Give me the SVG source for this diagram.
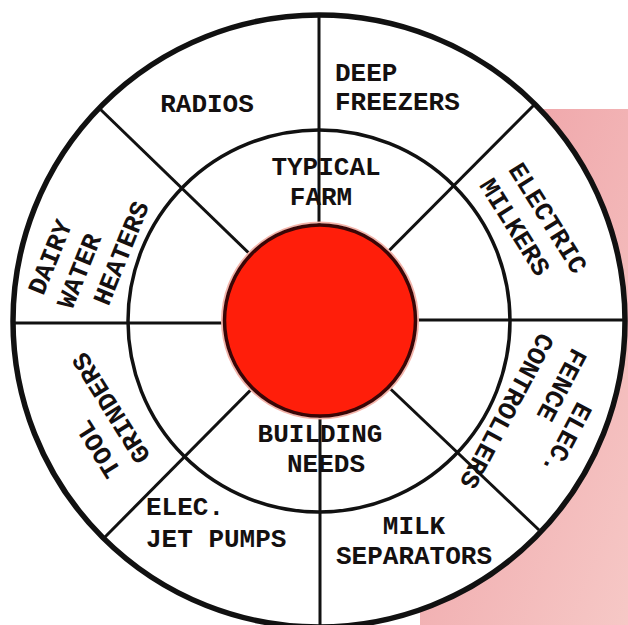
<svg xmlns="http://www.w3.org/2000/svg" width="628" height="625" viewBox="0 0 628 625">
  <defs>
    <linearGradient id="pink" x1="0" y1="0" x2="1" y2="1">
      <stop offset="0" stop-color="#e4606a"/>
      <stop offset="0.18" stop-color="#efa4a8"/>
      <stop offset="1" stop-color="#f6c8c6"/>
    </linearGradient>
    <style>
      .lbl { font-family: "Liberation Mono", "DejaVu Sans Mono", monospace; font-size: 26px; font-weight: bold; fill: #141010; }
      .mid { text-anchor: middle; }
      .ring { fill: none; stroke: #111; }
      .spoke { stroke: #111; stroke-width: 3; stroke-linecap: butt; }
    </style>
  </defs>

  <rect x="0" y="0" width="628" height="625" fill="#ffffff"/>
  <rect id="pink-panel" x="420" y="109" width="208" height="516" fill="url(#pink)"/>

  <g id="outer-disc">
    <circle cx="319" cy="321" r="306" fill="#ffffff" stroke="#111" stroke-width="5.5"/>
  </g>

  <g id="connectors">
    <line class="spoke" x1="319" y1="321" x2="319" y2="15"/>
    <line class="spoke" x1="320" y1="321" x2="320" y2="628"/>
    <line class="spoke" x1="319" y1="323" x2="13" y2="323"/>
    <line class="spoke" x1="319" y1="320" x2="625" y2="320"/>
    <line class="spoke" x1="319" y1="321" x2="99" y2="108"/>
    <line class="spoke" x1="319" y1="321" x2="535" y2="104"/>
    <line class="spoke" x1="319" y1="321" x2="105" y2="537"/>
    <line class="spoke" x1="319" y1="321" x2="539" y2="530"/>
  </g>

  <g id="inner-ring">
    <circle class="ring" cx="319" cy="321" r="191" stroke-width="3.5"/>
  </g>

  <g id="hub">
    <circle cx="320" cy="320.5" r="98" fill="none" stroke="#f4b4aa" stroke-width="2"/>
    <circle cx="320" cy="320.5" r="95.5" fill="#ff1e0a" stroke="#3a0606" stroke-width="3.5"/>
  </g>

  <g id="radios"><text class="lbl mid" x="207" y="112">RADIOS</text></g>
  <g id="deep-freezers">
    <text class="lbl" x="335" y="81">DEEP</text>
    <text class="lbl" x="335" y="110">FREEZERS</text>
  </g>
  <g id="typical-farm">
    <text class="lbl mid" x="326" y="175">TYPICAL</text>
    <text class="lbl mid" x="321" y="205">FARM</text>
  </g>
  <g id="building-needs">
    <text class="lbl mid" x="320" y="442">BUILDING</text>
    <text class="lbl mid" x="326" y="472">NEEDS</text>
  </g>
  <g id="jet-pumps">
    <text class="lbl" x="146" y="515">ELEC.</text>
    <text class="lbl" x="146" y="547">JET PUMPS</text>
  </g>
  <g id="milk-separators">
    <text class="lbl mid" x="414" y="534">MILK</text>
    <text class="lbl mid" x="414" y="564">SEPARATORS</text>
  </g>
  <g id="electric-milkers">
    <text class="lbl mid" transform="translate(548,218) rotate(58)" x="0" y="8.5">ELECTRIC</text>
    <text class="lbl mid" transform="translate(515,227) rotate(58)" x="0" y="8.5">MILKERS</text>
  </g>
  <g id="fence-controllers">
    <text class="lbl mid" transform="translate(567,439) rotate(118)" x="0" y="8.5">ELEC.</text>
    <text class="lbl mid" transform="translate(562,385) rotate(118)" x="0" y="8.5">FENCE</text>
    <text class="lbl mid" transform="translate(507,411) rotate(118)" x="0" y="8.5">CONTROLLERS</text>
  </g>
  <g id="tool-grinders">
    <text class="lbl mid" transform="translate(98,449) rotate(-122)" x="0" y="8.5">TOOL</text>
    <text class="lbl mid" transform="translate(111,408) rotate(-122)" x="0" y="8.5">GRINDERS</text>
  </g>
  <g id="dairy-water-heaters">
    <text class="lbl mid" transform="translate(50,257) rotate(-68)" x="0" y="8.5">DAIRY</text>
    <text class="lbl mid" transform="translate(79,271) rotate(-68)" x="0" y="8.5">WATER</text>
    <text class="lbl mid" transform="translate(121,253) rotate(-68)" x="0" y="8.5">HEATERS</text>
  </g>
</svg>
